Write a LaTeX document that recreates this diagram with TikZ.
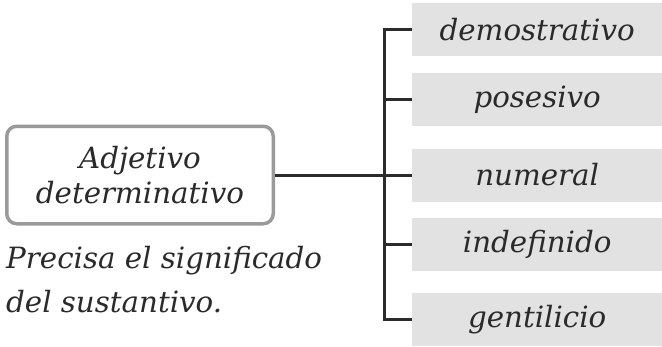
\documentclass[tikz,border=0pt]{standalone}
\usepackage{fontspec}
\setmainfont{DejaVu Serif}
\definecolor{textc}{HTML}{2A2A2A}
\definecolor{boxgray}{HTML}{E2E2E3}
\definecolor{bordergray}{HTML}{9A9A9A}
\definecolor{linec}{HTML}{2B2B2B}
\begin{document}
\begin{tikzpicture}[x=1pt,y=-1pt,
  txt/.style={font=\fontsize{29.3}{35}\selectfont\itshape, text=textc},
  item/.style={txt, fill=boxgray, minimum width=250pt, minimum height=53pt, inner sep=0pt, anchor=west},
  conn/.style={draw=linec, line width=3pt}
]
\useasboundingbox (0,0) rectangle (662,346);
\node[item] (d) at (412,29.5) {demostrativo};
\node[item] (p) at (412,99.5) {posesivo};
\node[item] (n) at (412,175) {numeral};
\node[item] (i) at (412,244.5) {indefinido};
\node[item] (g) at (412,319.5) {gentilicio};
\node[txt, draw=bordergray, line width=3.5pt, rounded corners=10pt,
  minimum width=266.5pt, minimum height=97.5pt, inner sep=0pt, align=center]
  (m) at (140,175) {Adjetivo\\determinativo};
\node[txt, anchor=base west, inner sep=0pt] (t1) at (6,268) {Precisa el significado};
\node[txt, anchor=base west, inner sep=0pt] (t2) at (6,312) {del sustantivo.};
\coordinate (bus) at (384,175);
\draw[conn] (m.east) -- (n.west);
\draw[conn] (d.west) -- (d.west -| bus) -- (g.west -| bus) -- (g.west);
\draw[conn] (p.west) -- (p.west -| bus);
\draw[conn] (i.west) -- (i.west -| bus);
\end{tikzpicture}
\end{document}
